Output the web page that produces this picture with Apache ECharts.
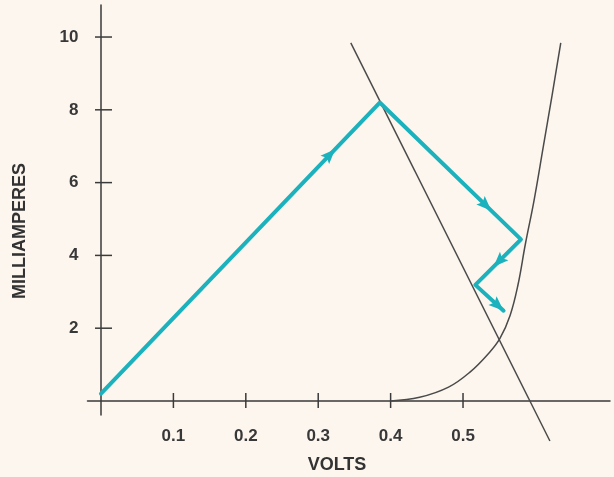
<!DOCTYPE html>
<html><head><meta charset="utf-8">
<script src="https://cdn.jsdelivr.net/npm/echarts@6/dist/echarts.min.js"></script>
<style>html,body{margin:0;padding:0;background:#fdf6ee}#c{width:614px;height:477px}</style>
</head><body><div id="c"></div>
<script>
// ---- data ----
const xTickValues = [0.1, 0.2, 0.3, 0.4, 0.5];
const xTickLabels = ['0.1', '0.2', '0.3', '0.4', '0.5'];
const yTickValues = [2, 4, 6, 8, 10];
const yTickLabels = ['2', '4', '6', '8', '10'];
const xTitle = 'VOLTS';
const yTitle = 'MILLIAMPERES';
// straight load line (volts, mA)
const loadLine = [[0.345, 9.84], [0.62, -1.1]];
// diode characteristic (volts, mA)
const diodeCurve = [
  [0.40, 0], [0.44, 0.1], [0.48, 0.38], [0.51, 0.8], [0.535, 1.3],
  [0.551, 1.72], [0.565, 2.35], [0.576, 3.2], [0.586, 4.3],
  [0.598, 5.5], [0.611, 7.0], [0.623, 8.4], [0.635, 9.84]
];
// teal trace path (volts, mA)
const tracePath = [[0, 0.2], [0.385, 8.2], [0.58, 4.44], [0.517, 3.19], [0.556, 2.48]];
// arrowheads: which segment, and where along it the tip sits
const arrowSegments = [0, 1, 2, 3];
const arrowFractions = [0.84, 0.79, 0.6, 1.0];

// ---- chart ----
const TEAL = '#1bb2bd';
const INK = '#3a3a3a';
const chart = echarts.init(document.getElementById('c'));

const arrowData = arrowSegments.map((s, i) => [
  tracePath[s][0], tracePath[s][1], tracePath[s + 1][0], tracePath[s + 1][1], arrowFractions[i]
]);

const labelFont = { fontFamily: 'Liberation Sans', fontWeight: 'bold', fontSize: 17, color: '#383838' };

chart.setOption({
  backgroundColor: '#fdf6ee',
  animation: false,
  grid: { left: 87.5, right: 4, top: 5, bottom: 62, containLabel: false },
  xAxis: {
    type: 'value', min: -0.01865, max: 0.703,
    splitLine: { show: false },
    axisLine: { onZero: true, lineStyle: { color: INK, width: 1.5 } },
    axisTick: { show: false },
    axisLabel: Object.assign({
      customValues: xTickValues,
      formatter: v => xTickLabels[xTickValues.findIndex(t => Math.abs(t - v) < 1e-9)] || '',
      margin: 13
    }, labelFont)
  },
  yAxis: {
    type: 'value', min: -0.385, max: 10.88,
    splitLine: { show: false },
    axisLine: { onZero: true, lineStyle: { color: INK, width: 1.5 } },
    axisTick: { show: false },
    axisLabel: Object.assign({
      customValues: yTickValues,
      formatter: v => yTickLabels[yTickValues.findIndex(t => Math.abs(t - v) < 1e-9)] || '',
      margin: 9
    }, labelFont)
  },
  graphic: [
    { type: 'text', x: 337, y: 465, style: { text: xTitle, textAlign: 'center', textVerticalAlign: 'middle', font: 'bold 18px "Liberation Sans"', fill: '#333' } },
    { type: 'text', x: 20, y: 231, rotation: Math.PI / 2, style: { text: yTitle, textAlign: 'center', textVerticalAlign: 'middle', font: 'bold 18px "Liberation Sans"', fill: '#333' } }
  ],
  series: [
    {
      type: 'custom', silent: true, clip: false,
      data: xTickValues.map(v => [v, 0]),
      renderItem: (p, api) => {
        const c = api.coord([api.value(0), api.value(1)]);
        return { type: 'line', shape: { x1: c[0], y1: c[1] - 8, x2: c[0], y2: c[1] + 7 }, style: { stroke: INK, lineWidth: 1.5 } };
      }
    },
    {
      type: 'custom', silent: true, clip: false,
      data: yTickValues.map(v => [0, v]),
      renderItem: (p, api) => {
        const c = api.coord([api.value(0), api.value(1)]);
        return { type: 'line', shape: { x1: c[0] - 6, y1: c[1], x2: c[0] + 11, y2: c[1] }, style: { stroke: INK, lineWidth: 1.5 } };
      }
    },
    {
      type: 'line', data: loadLine, showSymbol: false, clip: false, silent: true,
      lineStyle: { color: '#4a4a4a', width: 1.5 }
    },
    {
      type: 'line', data: diodeCurve, showSymbol: false, clip: false, silent: true,
      smooth: 0.4,
      lineStyle: { color: '#4a4a4a', width: 1.5 }
    },
    {
      type: 'line', data: tracePath, showSymbol: false, clip: false, silent: true, z: 5,
      lineStyle: { color: TEAL, width: 4, join: 'round', cap: 'round' }
    },
    {
      type: 'custom', silent: true, clip: false, z: 6,
      data: arrowData,
      encode: { x: [0, 2], y: [1, 3] },
      renderItem: (p, api) => {
        const a = api.coord([api.value(0), api.value(1)]);
        const b = api.coord([api.value(2), api.value(3)]);
        const f = api.value(4);
        const dx = b[0] - a[0], dy = b[1] - a[1];
        const len = Math.hypot(dx, dy);
        const ux = dx / len, uy = dy / len;
        const tip = [a[0] + dx * f, a[1] + dy * f];
        const L = 15, W = 6;
        const base = [tip[0] - ux * L, tip[1] - uy * L];
        const notch = [tip[0] - ux * L * 0.8, tip[1] - uy * L * 0.8];
        return {
          type: 'polygon',
          shape: { points: [tip, [base[0] - uy * W, base[1] + ux * W], notch, [base[0] + uy * W, base[1] - ux * W]] },
          style: { fill: TEAL }
        };
      }
    }
  ]
});
</script>
</body></html>
